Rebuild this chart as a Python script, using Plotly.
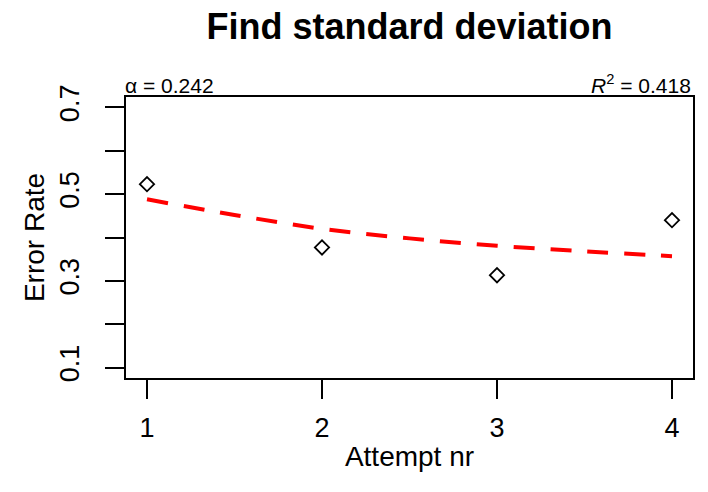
import plotly.graph_objects as go

# Data
attempts = [1, 2, 3, 4]
error_rate = [0.523, 0.377, 0.313, 0.440]

fit_x = [1, 1.5, 2, 2.5, 3, 3.5, 4]
fit_y = [0.488, 0.452, 0.420, 0.398, 0.381, 0.368, 0.357]

y_label_vals = [0.1, 0.3, 0.5, 0.7]
y_minor_vals = [0.2, 0.4, 0.6]
x_tickvals = [1, 2, 3, 4]

alpha_txt = "α = 0.242"
r2_txt = "<i>R</i><sup>2</sup> = 0.418"

FONT = "Liberation Sans, Arial, sans-serif"

fig = go.Figure()
fig.add_trace(go.Scatter(
    x=fit_x, y=fit_y, mode="lines",
    line=dict(color="#ff0000", width=4, dash="21px,16px", shape="spline"),
    hoverinfo="skip", showlegend=False))
fig.add_trace(go.Scatter(
    x=attempts, y=error_rate, mode="markers",
    marker=dict(symbol="diamond-open", size=11, color="black", line=dict(width=1.8, color="black")),
    showlegend=False))

fig.update_layout(
    width=708, height=492,
    margin=dict(l=126, r=15, t=97, b=114),
    paper_bgcolor="white", plot_bgcolor="white",
    font=dict(family=FONT, color="black"),
    title=dict(text="<b>Find standard deviation</b>", x=409.5 / 708, xanchor="center",
               y=1 - 26 / 492, yanchor="middle", font=dict(size=36, family=FONT, color="black")),
    xaxis=dict(range=[0.88, 4.12], tickvals=x_tickvals, ticks="outside", ticklen=19, tickwidth=2,
               tickcolor="black", showline=True, linecolor="black", linewidth=2, mirror=True,
               showgrid=False, zeroline=False, tickfont=dict(size=27), ticklabelstandoff=6,
               title=dict(text="Attempt nr", font=dict(size=28), standoff=4)),
    yaxis=dict(range=[0.076, 0.724], tickvals=y_label_vals, ticks="outside",
               ticklen=19, tickwidth=2, tickcolor="black", showline=True, linecolor="black",
               linewidth=2, mirror=True, showgrid=False, zeroline=False, tickangle=-90,
               minor=dict(tickvals=y_minor_vals, ticks="outside", ticklen=19, tickwidth=2,
                          tickcolor="black", showgrid=False),
               tickfont=dict(size=27), ticklabelstandoff=15,
               title=dict(text="Error Rate", font=dict(size=28), standoff=2)),
    annotations=[
        dict(text=alpha_txt, x=0, y=1, xref="paper", yref="paper", xanchor="left", yanchor="bottom",
             showarrow=False, font=dict(size=21, family=FONT, color="black"), yshift=-2, xshift=-3),
        dict(text=r2_txt, x=1, y=1, xref="paper", yref="paper", xanchor="right", yanchor="bottom",
             showarrow=False, font=dict(size=21, family=FONT, color="black"), yshift=-2),
    ],
)

fig.write_html("out.html")
